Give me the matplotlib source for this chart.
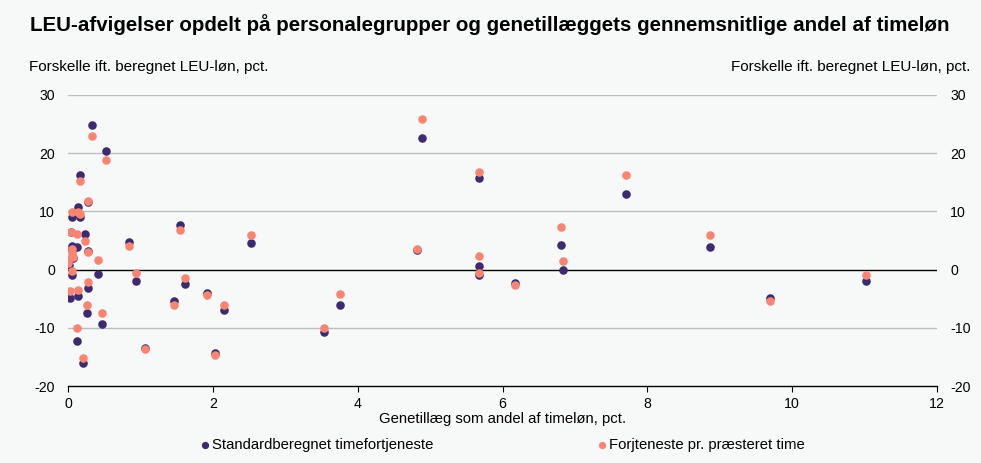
import matplotlib
matplotlib.use("Agg")
import matplotlib.pyplot as plt

x_share = [0.33, 0.52, 0.17, 0.28, 0.14, 0.16, 0.05, 0.04, 0.13, 0.23, 0.28, 0.06, 0.05, 0.07,
           0.00, 0.01, 0.42, 0.06, 0.27, 0.03, 0.14, 0.26, 0.47, 0.13, 0.21, 0.84, 0.94, 1.55,
           1.62, 1.47, 1.07, 1.92, 2.15, 2.03, 2.53, 3.53, 3.76, 4.82, 4.89, 5.68, 5.67, 5.67,
           6.17, 6.81, 6.83, 7.70, 8.87, 9.69, 11.02]
standard = [24.8, 20.4, 16.2, 11.7, 10.8, 9.0, 9.1, 6.5, 3.9, 6.2, 3.2, 4.0, 3.3, 2.0,
            1.6, 0.8, -0.7, -0.9, -3.2, -4.8, -4.5, -7.5, -9.4, -12.2, -16.0, 4.8, -2.0, 7.6,
            -2.5, -5.4, -13.4, -4.1, -7.0, -14.4, 4.6, -10.8, -6.0, 3.3, 22.6, 15.8, 0.7, -1.0,
            -2.3, 4.2, -0.1, 13.0, 3.9, -4.9, -2.0]
presteret = [23.0, 18.9, 15.3, 11.8, 9.9, 9.6, 9.9, 6.4, 6.2, 4.9, 3.1, 3.6, 2.8, 2.2,
             1.2, 1.8, 1.6, -0.3, -2.2, -3.7, -3.5, -6.0, -7.4, -10.1, -15.2, 4.1, -0.6, 6.8,
             -1.5, -6.1, -13.6, -4.3, -6.1, -14.6, 6.0, -10.1, -4.2, 3.5, 25.8, 16.7, 2.3, -0.6,
             -2.6, 7.4, 1.4, 16.3, 5.9, -5.4, -0.9]

y_ticks = [-20, -10, 0, 10, 20, 30]
x_ticks = [0, 2, 4, 6, 8, 10, 12]

plt.rcParams['font.family'] = ['Liberation Sans', 'DejaVu Sans']
plt.rcParams['axes.unicode_minus'] = False
bg = '#f7f8f8'
navy = '#3d2a6f'
orange = '#fa8472'

fig = plt.figure(figsize=(9.81, 4.63), dpi=100, facecolor=bg)
ax = fig.add_axes([68/981, 1-386/463, (937-68)/981, (386-95)/463], facecolor=bg)

for y in [-10, 10, 20, 30]:
    ax.axhline(y, color='#bdbdbd', lw=1.0, zorder=1)
ax.axhline(0, color='black', lw=1.0, zorder=1)

ax.scatter(x_share, standard, s=38, color=navy, zorder=3, linewidths=0,
           label='Standardberegnet timefortjeneste')
ax.scatter(x_share, presteret, s=38, color=orange, zorder=4, linewidths=0,
           label='Forjteneste pr. præsteret time')

ax.set_xlim(0, 12)
ax.set_ylim(-20, 30)
ax.set_xticks(x_ticks)
ax.set_yticks(y_ticks)
ax.tick_params(axis='y', length=0, labelsize=10.2, pad=9.5, labelright=True, right=False)
ax.tick_params(axis='x', length=4, width=0.8, labelsize=10.2, pad=4, direction='out')
for s in ['top', 'left', 'right']:
    ax.spines[s].set_visible(False)
ax.spines['bottom'].set_color('black')
ax.spines['bottom'].set_linewidth(1.0)

ax.set_xlabel('Genetillæg som andel af timeløn, pct.', fontsize=10.7, labelpad=1)

fig.text(30/981, 1-25/463, 'LEU-afvigelser opdelt på personalegrupper og genetillæggets gennemsnitlige andel af timeløn',
         fontsize=14.8, fontweight='bold', va='center', ha='left')
fig.text(29/981, 1-67/463, 'Forskelle ift. beregnet LEU-løn, pct.', fontsize=11, va='center', ha='left')
fig.text(970/981, 1-67/463, 'Forskelle ift. beregnet LEU-løn, pct.', fontsize=11, va='center', ha='right')

leg = fig.legend(loc='center left', bbox_to_anchor=(199/981, 1-445/463), ncol=2, frameon=False,
                 fontsize=10.7, handletextpad=0.1, columnspacing=10.9, markerscale=0.85,
                 handlelength=0.8, borderpad=0, borderaxespad=0)

fig.savefig('out.png', dpi=100, facecolor=bg)
